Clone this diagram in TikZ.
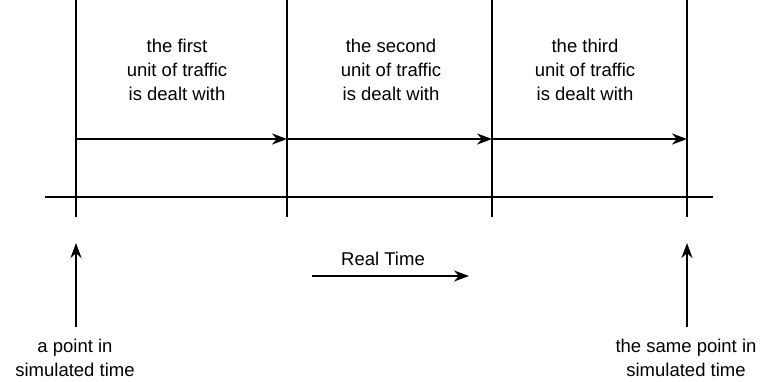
\documentclass[tikz,border=0pt]{standalone}
\usepackage{fontspec}
\setmainfont{Liberation Sans}
\usetikzlibrary{arrows.meta}
\begin{document}
\begin{tikzpicture}[x=1pt,y=-1pt,
  rule/.style={line width=2.8pt},
  flow/.style={line width=2.4pt,-{Stealth[length=15pt,width=11pt]}},
  lbl/.style={font=\fontsize{18.5}{24}\selectfont,align=center,inner sep=0pt}]
\useasboundingbox (0,0) rectangle (762,381);
% vertical boundaries
\foreach \n/\x in {a/76,b/287,c/492,d/687}{
  \coordinate (\n top) at (\x,0);
  \coordinate (\n bot) at (\x,217);
  \coordinate (\n mid) at (\x,139);
  \draw[rule] (\n top) -- (\n bot);
}
% time axis
\coordinate (axL) at (45,197);
\coordinate (axR) at (713,197);
\draw[rule] (axL) -- (axR);
% processing arrows
\draw[flow] (amid) -- (bmid);
\draw[flow] (bmid) -- (cmid);
\draw[flow] (cmid) -- (dmid);
% unit labels
\node[lbl] (t1) at (177,70) {the first\\unit of traffic\\is dealt with};
\node[lbl] (t2) at (391,70) {the second\\unit of traffic\\is dealt with};
\node[lbl] (t3) at (585,70) {the third\\unit of traffic\\is dealt with};
% real time
\node[lbl] (rt) at (383,259) {Real Time};
\coordinate (rtL) at (312,276);
\coordinate (rtR) at (469,276);
\draw[flow] (rtL) -- (rtR);
% bottom labels
\node[lbl] (p1) at (75,358) {a point in\\simulated time};
\node[lbl] (p2) at (686,358) {the same point in\\simulated time};
\coordinate (u1) at (76,243);
\coordinate (u2) at (687,243);
\coordinate (d1) at (76,327);
\coordinate (d2) at (687,327);
\draw[flow] (d1) -- (u1);
\draw[flow] (d2) -- (u2);
\end{tikzpicture}
\end{document}
